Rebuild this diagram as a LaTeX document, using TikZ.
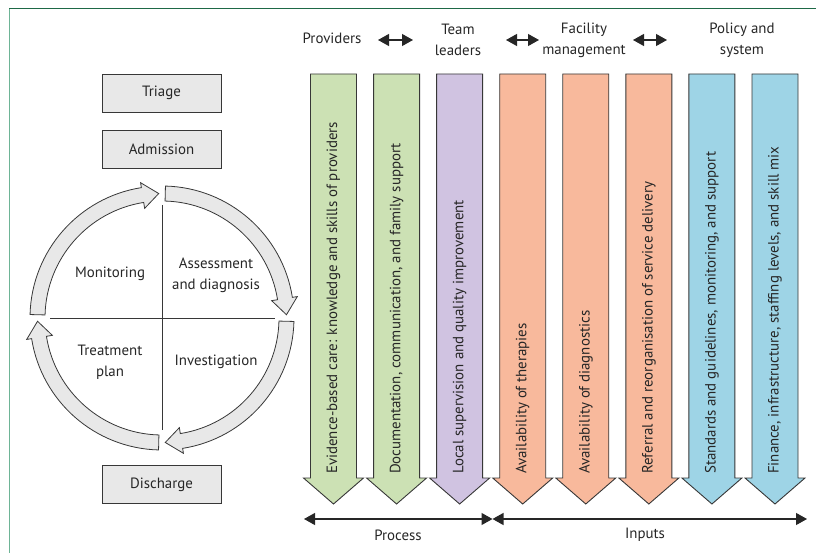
\documentclass[tikz,border=0pt]{standalone}
\usepackage{fontspec}
\setmainfont{PT Sans}
\usetikzlibrary{arrows.meta}
\definecolor{provgreen}{RGB}{204,225,180}
\definecolor{teamviolet}{RGB}{208,195,225}
\definecolor{facsalmon}{RGB}{248,185,156}
\definecolor{polblue}{RGB}{158,212,230}
\definecolor{boxgray}{RGB}{232,232,232}
\definecolor{edgegray}{RGB}{55,55,55}
\definecolor{frametop}{RGB}{30,105,70}
\definecolor{frameleft}{RGB}{110,180,150}
\begin{document}
\begin{tikzpicture}[x=1pt,y=-1pt,
    lbl/.style={font=\fontsize{14.9}{21}\selectfont,text=black!85,align=center,inner sep=0pt},
    stagebox/.style={lbl,draw=edgegray,fill=boxgray,line width=0.9pt,minimum width=119pt,minimum height=38pt},
    colarrow/.style={draw=edgegray,line width=0.9pt},
    coltext/.style={lbl,rotate=90,anchor=west},
    dbl/.style={{Triangle[length=11pt,width=12pt]}-{Triangle[length=11pt,width=12pt]},line width=1.2pt,black!85},
    ringarrow/.style={draw=edgegray,fill=boxgray,line width=0.8pt}]
    \useasboundingbox (0,0) rectangle (816,553);
    %frame
    \draw[frametop,line width=1pt] (9,9) -- (816,9);
    \draw[frameleft,line width=1pt] (9,9) -- (9,553);
    %stages
    \node[stagebox] (triage) at (161.5,93) {Triage};
    \node[stagebox] (admission) at (161.5,149) {Admission};
    \node[stagebox] (discharge) at (161.5,484.5) {Discharge};
    %cycle
    \begin{scope}[shift={(162,318)},y=1pt]
      \foreach \s/\tp in {178.5/91.5, 88.5/1.5, -1.5/-88.5, -91.5/-178.5} {
        \pgfmathsetmacro\b{\tp+7.5}
        \draw[ringarrow] (\s:132) arc[start angle=\s,end angle=\b,radius=132]
          -- (\b:137) -- (\tp:124.5) -- (\b:111) -- (\b:117)
          arc[start angle=\b,end angle=\s,radius=117] -- cycle;
      }
      \draw[edgegray,line width=0.8pt] (0,113) -- (0,-112);
      \draw[edgegray,line width=0.8pt] (-112,0) -- (113,0);
    \end{scope}
    \node[lbl] (monitoring) at (110,274) {Monitoring};
    \node[lbl] (assessment) at (216,275) {Assessment\\and diagnosis};
    \node[lbl] (treatment) at (110,362) {Treatment\\plan};
    \node[lbl] (investigation) at (216,362) {Investigation};
    %levels
    \node[lbl] (providers) at (332,38) {Providers};
    \node[lbl] (team) at (458,40) {Team\\leaders};
    \node[lbl] (facility) at (584,40) {Facility\\management};
    \node[lbl] (policy) at (742,40) {Policy and\\system};
    \coordinate (pt1) at (378,40); \coordinate (pt2) at (413,40);
    \coordinate (tf1) at (506,40); \coordinate (tf2) at (539,40);
    \coordinate (fp1) at (633,40); \coordinate (fp2) at (667,40);
    \draw[dbl] (pt1) -- (pt2);
    \draw[dbl] (tf1) -- (tf2);
    \draw[dbl] (fp1) -- (fp2);
    %columns
    \foreach \i/\clr/\txt in {
        0/provgreen/{Evidence-based care: knowledge and skills of providers},
        1/provgreen/{Documentation, communication, and family support},
        2/teamviolet/{Local supervision and quality improvement},
        3/facsalmon/{Availability of therapies},
        4/facsalmon/{Availability of diagnostics},
        5/facsalmon/{Referral and reorganisation of service delivery},
        6/polblue/{Standards and guidelines, monitoring, and support},
        7/polblue/{Finance, infrastructure, staffing levels, and skill mix}} {
      \pgfmathsetmacro\x{333.5+63.07*\i}
      \draw[colarrow,fill=\clr] ({\x-23},74) -- ({\x+23},74) -- ({\x+23},478) -- ({\x+30},478)
        -- (\x,504) -- ({\x-30},478) -- ({\x-23},478) -- cycle;
      \node[coltext] (col\i) at (\x,474) {\txt};
    }
    %process and inputs
    \coordinate (procstart) at (304,519);
    \coordinate (split) at (492.5,519);
    \coordinate (inend) at (807,519);
    \draw[dbl] (procstart) -- (split);
    \draw[dbl] (split) -- (inend);
    \node[lbl] (process) at (398,535) {Process};
    \node[lbl] (inputs) at (645,535) {Inputs};
\end{tikzpicture}
\end{document}
